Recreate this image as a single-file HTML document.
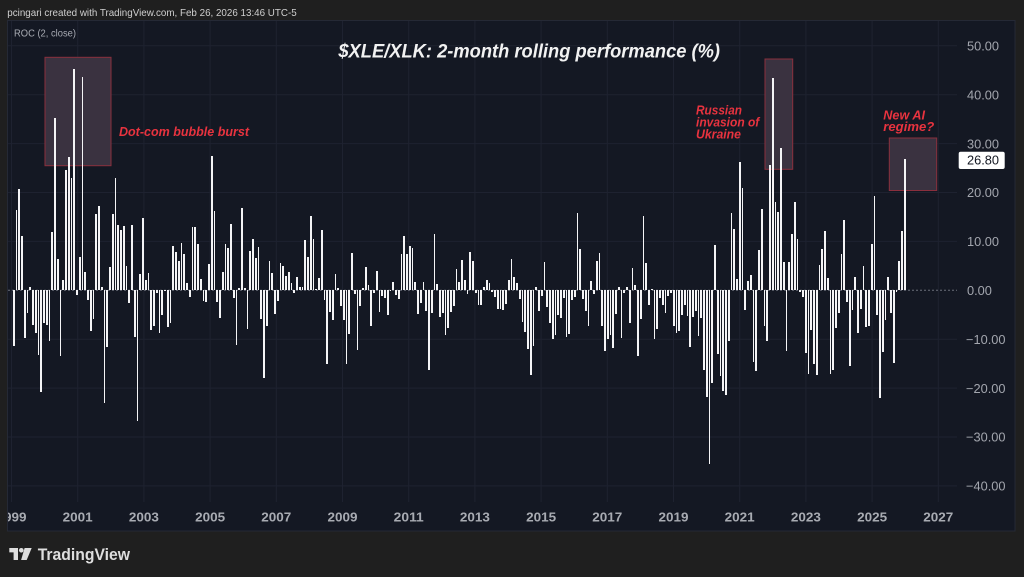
<!DOCTYPE html>
<html><head><meta charset="utf-8">
<style>
html,body{margin:0;padding:0;background:#1f1f1f;}
body{width:1024px;height:577px;position:relative;overflow:hidden;font-family:"Liberation Sans",sans-serif;}
svg{position:absolute;left:0;top:0;}
#bars{position:absolute;left:12.42px;top:0;height:577px;display:flex;}
#bars i{display:block;position:relative;width:2.76px;height:577px;flex:none;}
#bars i::before{content:"";position:absolute;left:.48px;width:1.8px;background:#f4f4f6;
top:calc((290.3 - max(var(--v),0)*4.89)*1px);height:calc(max(var(--v),-1*var(--v))*4.89px);}
</style></head>
<body>
<svg width="1024" height="577" viewBox="0 0 1024 577" font-family="Liberation Sans, sans-serif">
<defs><clipPath id="pc"><rect x="8" y="21" width="1007" height="510"/></clipPath></defs>
<rect width="1024" height="577" fill="#1f1f1f"/>
<text x="7.3" y="16" font-size="10.5" fill="#cfcfcf" textLength="289.4" lengthAdjust="spacingAndGlyphs">pcingari created with TradingView.com, Feb 26, 2026 13:46 UTC-5</text>
<rect x="7.5" y="20.5" width="1007.5" height="510.5" fill="#141823" stroke="#252935"/>
<g stroke="#1e2230" stroke-width="1">
<line x1="8" x2="957" y1="45.8" y2="45.8"/><line x1="8" x2="957" y1="94.7" y2="94.7"/>
<line x1="8" x2="957" y1="143.6" y2="143.6"/><line x1="8" x2="957" y1="192.5" y2="192.5"/>
<line x1="8" x2="957" y1="241.4" y2="241.4"/><line x1="8" x2="957" y1="339.2" y2="339.2"/>
<line x1="8" x2="957" y1="388.1" y2="388.1"/><line x1="8" x2="957" y1="437" y2="437"/>
<line x1="8" x2="957" y1="485.9" y2="485.9"/>
<line x1="11.5" x2="11.5" y1="21" y2="502"/><line x1="77.7" x2="77.7" y1="21" y2="502"/>
<line x1="143.9" x2="143.9" y1="21" y2="502"/><line x1="210.1" x2="210.1" y1="21" y2="502"/>
<line x1="276.3" x2="276.3" y1="21" y2="502"/><line x1="342.5" x2="342.5" y1="21" y2="502"/>
<line x1="408.7" x2="408.7" y1="21" y2="502"/><line x1="474.9" x2="474.9" y1="21" y2="502"/>
<line x1="541.1" x2="541.1" y1="21" y2="502"/><line x1="607.3" x2="607.3" y1="21" y2="502"/>
<line x1="673.5" x2="673.5" y1="21" y2="502"/><line x1="739.7" x2="739.7" y1="21" y2="502"/>
<line x1="805.9" x2="805.9" y1="21" y2="502"/><line x1="872.1" x2="872.1" y1="21" y2="502"/>
<line x1="938.3" x2="938.3" y1="21" y2="502"/>
</g>
<line x1="8" x2="957" y1="290.3" y2="290.3" stroke="#6b6f7a" stroke-width="1" stroke-dasharray="2 2"/>
<g fill="#3a3240" stroke="#8a2f3d" stroke-width="1">
<rect x="45" y="57.3" width="66" height="108.4"/>
<rect x="765" y="59" width="27.7" height="110.3"/>
<rect x="889.3" y="138" width="47.4" height="52.5"/>
</g>
<text x="14" y="36.5" font-size="10.5" fill="#a8abb3" textLength="62" lengthAdjust="spacingAndGlyphs">ROC (2, close)</text>
<text x="529.2" y="57.3" text-anchor="middle" font-size="19" font-weight="bold" font-style="italic" fill="#f2f2f2" textLength="381.7" lengthAdjust="spacingAndGlyphs">$XLE/XLK: 2-month rolling performance (%)</text>
<g fill="#e8333f" font-weight="bold" font-style="italic" font-size="12.5">
<text x="119" y="136" textLength="130" lengthAdjust="spacingAndGlyphs">Dot-com bubble burst</text>
<text x="696" y="114.3" textLength="46" lengthAdjust="spacingAndGlyphs">Russian</text>
<text x="696" y="126.3" textLength="63.3" lengthAdjust="spacingAndGlyphs">invasion of</text>
<text x="696" y="138.3" textLength="45" lengthAdjust="spacingAndGlyphs">Ukraine</text>
<text x="883.3" y="119.3" textLength="41.7" lengthAdjust="spacingAndGlyphs">New AI</text>
<text x="883.3" y="131" textLength="51" lengthAdjust="spacingAndGlyphs">regime?</text>
</g>
<g fill="#a3a6ae" font-size="12.8">
<text x="967" y="50.5">50.00</text>
<text x="967" y="99.4">40.00</text>
<text x="967" y="148.3">30.00</text>
<text x="967" y="197.2">20.00</text>
<text x="967" y="246.1">10.00</text>
<text x="967" y="295">0.00</text>
<text x="966" y="343.9">−10.00</text>
<text x="966" y="392.8">−20.00</text>
<text x="966" y="441.7">−30.00</text>
<text x="966" y="490.6">−40.00</text>
</g>
<rect x="958.7" y="151.7" width="46" height="17.3" rx="2" fill="#ffffff"/>
<text x="967" y="164.3" font-size="12.8" fill="#131722">26.80</text>
<g clip-path="url(#pc)" fill="#a8abb2" font-size="13" font-weight="bold" text-anchor="middle">
<text x="11.5" y="521.3" textLength="30" lengthAdjust="spacingAndGlyphs">1999</text>
<text x="77.7" y="521.3" textLength="30" lengthAdjust="spacingAndGlyphs">2001</text>
<text x="143.9" y="521.3" textLength="30" lengthAdjust="spacingAndGlyphs">2003</text>
<text x="210.1" y="521.3" textLength="30" lengthAdjust="spacingAndGlyphs">2005</text>
<text x="276.3" y="521.3" textLength="30" lengthAdjust="spacingAndGlyphs">2007</text>
<text x="342.5" y="521.3" textLength="30" lengthAdjust="spacingAndGlyphs">2009</text>
<text x="408.7" y="521.3" textLength="30" lengthAdjust="spacingAndGlyphs">2011</text>
<text x="474.9" y="521.3" textLength="30" lengthAdjust="spacingAndGlyphs">2013</text>
<text x="541.1" y="521.3" textLength="30" lengthAdjust="spacingAndGlyphs">2015</text>
<text x="607.3" y="521.3" textLength="30" lengthAdjust="spacingAndGlyphs">2017</text>
<text x="673.5" y="521.3" textLength="30" lengthAdjust="spacingAndGlyphs">2019</text>
<text x="739.7" y="521.3" textLength="30" lengthAdjust="spacingAndGlyphs">2021</text>
<text x="805.9" y="521.3" textLength="30" lengthAdjust="spacingAndGlyphs">2023</text>
<text x="872.1" y="521.3" textLength="30" lengthAdjust="spacingAndGlyphs">2025</text>
<text x="938.3" y="521.3" textLength="30" lengthAdjust="spacingAndGlyphs">2027</text>
</g>
<g fill="#dedede">
<path d="M9.3 548h8.7v12h-4.4v-7.6h-4.3z"/>
<circle cx="21.3" cy="550.3" r="2.3"/>
<path d="M24.6 548h7.1l-5 12h-5.6z"/>
</g>
<text x="37.7" y="560" font-size="16.5" font-weight="bold" fill="#dedede" textLength="92.3" lengthAdjust="spacingAndGlyphs">TradingView</text>
</svg>
<div id="bars">
<i style="--v:-11.3"></i><i style="--v:16.4"></i><i style="--v:20.7"></i><i style="--v:11.2"></i><i style="--v:-9.7"></i><i style="--v:-4.7"></i><i style="--v:0.6"></i><i style="--v:-7.0"></i><i style="--v:-8.8"></i><i style="--v:-13.2"></i>
<i style="--v:-20.9"></i><i style="--v:-6.7"></i><i style="--v:-7.0"></i><i style="--v:-10.4"></i><i style="--v:12.0"></i><i style="--v:35.2"></i><i style="--v:6.5"></i><i style="--v:-13.4"></i><i style="--v:2.2"></i><i style="--v:24.5"></i>
<i style="--v:27.2"></i><i style="--v:23.0"></i><i style="--v:45.3"></i><i style="--v:-1.0"></i><i style="--v:6.9"></i><i style="--v:43.7"></i><i style="--v:3.7"></i><i style="--v:-2.0"></i><i style="--v:-8.3"></i><i style="--v:-5.8"></i>
<i style="--v:15.7"></i><i style="--v:17.2"></i><i style="--v:0.6"></i><i style="--v:-23.0"></i><i style="--v:-11.5"></i><i style="--v:4.8"></i><i style="--v:15.7"></i><i style="--v:22.9"></i><i style="--v:13.4"></i><i style="--v:12.3"></i>
<i style="--v:13.2"></i><i style="--v:5.0"></i><i style="--v:-2.7"></i><i style="--v:13.4"></i><i style="--v:-9.5"></i><i style="--v:-26.7"></i><i style="--v:3.3"></i><i style="--v:14.7"></i><i style="--v:2.2"></i><i style="--v:3.5"></i>
<i style="--v:-8.2"></i><i style="--v:-7.4"></i><i style="--v:-0.6"></i><i style="--v:-8.8"></i><i style="--v:-5.1"></i><i style="--v:-0.2"></i><i style="--v:-7.6"></i><i style="--v:-6.6"></i><i style="--v:9.1"></i><i style="--v:7.8"></i>
<i style="--v:5.9"></i><i style="--v:9.7"></i><i style="--v:7.4"></i><i style="--v:1.4"></i><i style="--v:-1.3"></i><i style="--v:13.0"></i><i style="--v:13.0"></i><i style="--v:9.4"></i><i style="--v:2.3"></i><i style="--v:-2.2"></i>
<i style="--v:-2.3"></i><i style="--v:5.4"></i><i style="--v:27.5"></i><i style="--v:16.2"></i><i style="--v:-2.3"></i><i style="--v:-5.7"></i><i style="--v:3.7"></i><i style="--v:9.5"></i><i style="--v:8.7"></i><i style="--v:13.6"></i>
<i style="--v:-1.6"></i><i style="--v:-11.2"></i>
<i style="--v:0.5"></i><i style="--v:16.9"></i><i style="--v:0.4"></i><i style="--v:-8.0"></i><i style="--v:8.1"></i><i style="--v:10.5"></i><i style="--v:6.7"></i><i style="--v:8.9"></i><i style="--v:-5.9"></i><i style="--v:-18.0"></i>
<i style="--v:-7.3"></i><i style="--v:5.9"></i><i style="--v:3.5"></i><i style="--v:-4.9"></i><i style="--v:-2.1"></i><i style="--v:5.5"></i><i style="--v:5.0"></i><i style="--v:3.0"></i><i style="--v:3.7"></i><i style="--v:1.4"></i>
<i style="--v:-0.6"></i><i style="--v:2.7"></i><i style="--v:0.6"></i><i style="--v:0.7"></i><i style="--v:10.2"></i><i style="--v:6.9"></i><i style="--v:15.2"></i><i style="--v:10.4"></i><i style="--v:0.2"></i><i style="--v:2.6"></i>
<i style="--v:12.3"></i><i style="--v:-2.0"></i><i style="--v:-15.1"></i><i style="--v:-4.4"></i><i style="--v:-6.1"></i><i style="--v:3.3"></i><i style="--v:0.4"></i><i style="--v:-3.2"></i><i style="--v:-6.1"></i><i style="--v:-15.1"></i>
<i style="--v:-8.9"></i><i style="--v:7.6"></i><i style="--v:-0.7"></i><i style="--v:-12.3"></i><i style="--v:-3.2"></i><i style="--v:0.4"></i><i style="--v:4.8"></i><i style="--v:1.0"></i><i style="--v:-7.3"></i><i style="--v:-0.6"></i>
<i style="--v:4.0"></i><i style="--v:-4.4"></i><i style="--v:-1.2"></i><i style="--v:-1.6"></i><i style="--v:-5.0"></i><i style="--v:0.1"></i><i style="--v:1.6"></i><i style="--v:-1.0"></i><i style="--v:-1.8"></i><i style="--v:7.4"></i>
<i style="--v:11.2"></i><i style="--v:7.4"></i><i style="--v:9.1"></i><i style="--v:8.6"></i><i style="--v:1.7"></i><i style="--v:-4.9"></i><i style="--v:-2.7"></i><i style="--v:1.6"></i><i style="--v:-4.2"></i><i style="--v:-16.3"></i>
<i style="--v:-4.7"></i><i style="--v:11.5"></i><i style="--v:1.2"></i><i style="--v:-5.5"></i><i style="--v:-4.7"></i><i style="--v:-9.1"></i><i style="--v:-7.8"></i><i style="--v:-4.4"></i><i style="--v:-3.3"></i><i style="--v:4.4"></i>
<i style="--v:1.6"></i><i style="--v:6.2"></i>
<i style="--v:2.2"></i><i style="--v:-0.7"></i><i style="--v:7.8"></i><i style="--v:5.9"></i><i style="--v:-0.5"></i><i style="--v:-3.1"></i><i style="--v:-3.1"></i><i style="--v:0.6"></i><i style="--v:2.1"></i><i style="--v:1.4"></i>
<i style="--v:-0.4"></i><i style="--v:-1.3"></i><i style="--v:-3.8"></i><i style="--v:-3.8"></i><i style="--v:-4.0"></i><i style="--v:-2.8"></i><i style="--v:2.2"></i><i style="--v:6.5"></i><i style="--v:2.8"></i><i style="--v:1.4"></i>
<i style="--v:-1.8"></i><i style="--v:-6.4"></i><i style="--v:-8.5"></i><i style="--v:-12.1"></i><i style="--v:-17.3"></i><i style="--v:-11.3"></i><i style="--v:0.7"></i><i style="--v:-4.2"></i><i style="--v:-1.2"></i><i style="--v:5.8"></i>
<i style="--v:-3.5"></i><i style="--v:-6.6"></i><i style="--v:-10.0"></i><i style="--v:-9.1"></i><i style="--v:-5.0"></i><i style="--v:-5.7"></i><i style="--v:-1.5"></i><i style="--v:-9.6"></i><i style="--v:-8.9"></i><i style="--v:-2.0"></i>
<i style="--v:-1.3"></i><i style="--v:15.9"></i><i style="--v:8.4"></i><i style="--v:-1.8"></i><i style="--v:-4.2"></i><i style="--v:-7.4"></i><i style="--v:1.8"></i><i style="--v:-0.8"></i><i style="--v:6.0"></i><i style="--v:7.6"></i>
<i style="--v:-7.2"></i><i style="--v:-12.5"></i><i style="--v:-10.0"></i><i style="--v:-9.1"></i><i style="--v:-11.8"></i><i style="--v:-4.9"></i><i style="--v:0.6"></i><i style="--v:-9.8"></i><i style="--v:-0.6"></i><i style="--v:0.7"></i>
<i style="--v:-6.7"></i><i style="--v:4.6"></i><i style="--v:1.0"></i><i style="--v:-13.4"></i><i style="--v:-5.8"></i><i style="--v:15.1"></i><i style="--v:5.5"></i><i style="--v:-3.1"></i><i style="--v:0.2"></i><i style="--v:-10.0"></i>
<i style="--v:-8.0"></i><i style="--v:-1.6"></i><i style="--v:-3.0"></i><i style="--v:-4.6"></i><i style="--v:-1.2"></i><i style="--v:-0.6"></i><i style="--v:-7.2"></i><i style="--v:-8.7"></i><i style="--v:-8.4"></i><i style="--v:-5.0"></i>
<i style="--v:-3.0"></i><i style="--v:-5.2"></i><i style="--v:-11.5"></i><i style="--v:-5.4"></i><i style="--v:-4.2"></i><i style="--v:-9.3"></i><i style="--v:-5.6"></i><i style="--v:-16.2"></i><i style="--v:-21.9"></i><i style="--v:-35.5"></i>
<i style="--v:-18.9"></i><i style="--v:9.3"></i><i style="--v:-13.0"></i><i style="--v:-17.5"></i><i style="--v:-20.5"></i><i style="--v:-21.4"></i><i style="--v:-10.3"></i><i style="--v:15.9"></i><i style="--v:12.5"></i><i style="--v:2.4"></i>
<i style="--v:26.3"></i><i style="--v:21.0"></i><i style="--v:-4.0"></i><i style="--v:2.0"></i><i style="--v:3.1"></i><i style="--v:-14.7"></i><i style="--v:-16.5"></i><i style="--v:8.2"></i><i style="--v:16.6"></i><i style="--v:-7.3"></i>
<i style="--v:-10.3"></i><i style="--v:25.6"></i><i style="--v:43.4"></i><i style="--v:18.1"></i><i style="--v:16.0"></i><i style="--v:29.0"></i><i style="--v:5.7"></i><i style="--v:-12.5"></i><i style="--v:5.7"></i><i style="--v:11.5"></i>
<i style="--v:18.1"></i><i style="--v:10.4"></i><i style="--v:-0.3"></i><i style="--v:-1.4"></i><i style="--v:-12.9"></i><i style="--v:-17.1"></i><i style="--v:-8.1"></i><i style="--v:-15.1"></i><i style="--v:-17.3"></i><i style="--v:5.2"></i>
<i style="--v:8.4"></i><i style="--v:12.2"></i><i style="--v:2.5"></i><i style="--v:-17.2"></i><i style="--v:-16.2"></i><i style="--v:-7.8"></i><i style="--v:-4.6"></i><i style="--v:7.4"></i><i style="--v:14.4"></i><i style="--v:-2.3"></i>
<i style="--v:-15.5"></i><i style="--v:-4.0"></i><i style="--v:2.7"></i><i style="--v:-8.8"></i><i style="--v:-3.9"></i><i style="--v:5.0"></i><i style="--v:-7.6"></i><i style="--v:-7.3"></i><i style="--v:9.5"></i><i style="--v:19.2"></i>
<i style="--v:-5.1"></i><i style="--v:-22.1"></i><i style="--v:-12.7"></i><i style="--v:-6.1"></i><i style="--v:2.7"></i><i style="--v:-4.7"></i><i style="--v:-14.9"></i><i style="--v:-0.4"></i><i style="--v:5.9"></i><i style="--v:12.2"></i>
<i style="--v:26.8"></i>
</div>
</body></html>
